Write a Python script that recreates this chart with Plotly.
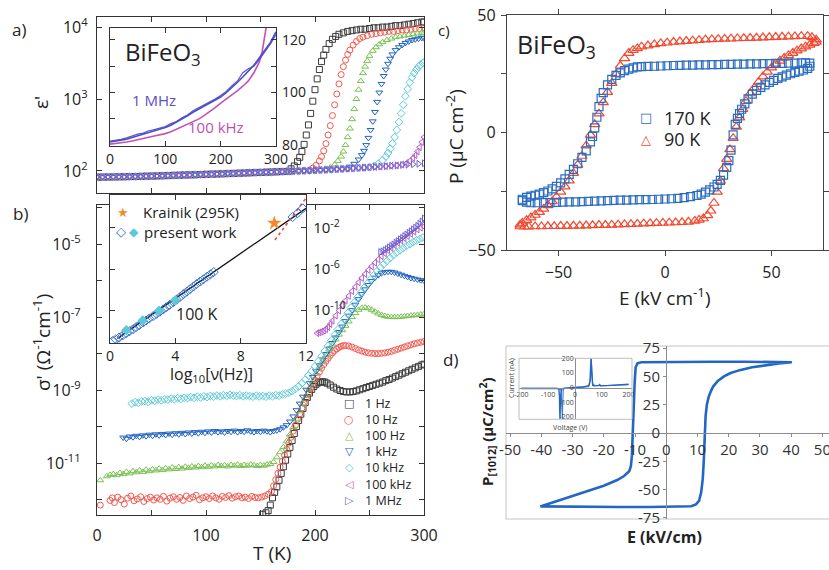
import plotly.graph_objects as go

W, H = 829, 570
FONT = "Open Sans"
SYM_FONT = "DejaVu Sans"
TXT = "#222222"
AXC = "#333333"

C_BLACK = "#3a3a3a"
C_RED = "#f2584f"
C_GREEN = "#79c150"
C_BLUE = "#2163c0"
C_CYAN = "#5ccbd9"
C_MAGENTA = "#b45cc6"
C_PURPLE = "#6d5fcf"


def fx(p):
    return p / W


def fy(p):
    return 1 - p / H


# ---------------- (a) permittivity, log10(eps') vs T ----------------
T_BASE = [0, 5, 10, 15, 20, 25, 30, 35, 40, 45, 50, 55, 60, 65, 70, 75, 80, 85, 90, 95,
          100, 105, 110, 115, 120, 125, 130, 135, 140, 145, 150, 155, 160, 165, 170, 175,
          180, 185, 190, 195, 200, 205, 210, 215, 220, 225, 230, 235, 240, 245, 250, 255,
          260, 265, 270, 275, 280, 285, 290, 295, 300]
LOG_EPS_BASE = [1.914, 1.915, 1.916, 1.917, 1.919, 1.920, 1.922, 1.923, 1.925, 1.927,
                1.929, 1.931, 1.934, 1.936, 1.939, 1.941, 1.944, 1.946, 1.948, 1.951,
                1.953, 1.956, 1.958, 1.961, 1.964, 1.966, 1.969, 1.972, 1.975, 1.978,
                1.980, 1.983, 1.986, 1.989, 1.992, 1.995, 1.998, 2.001, 2.004, 2.008,
                2.011, 2.014, 2.018, 2.022, 2.026, 2.030, 2.034, 2.038, 2.043, 2.047,
                2.051, 2.056, 2.061, 2.066, 2.072, 2.077, 2.083, 2.088, 2.094, 2.100,
                2.107]

T_A_1HZ = [178, 181, 184, 186, 188, 190, 192, 194, 196, 198, 200, 202, 204, 206, 208, 210,
           213, 216, 219, 222, 226, 230, 234, 238, 242, 246, 250, 254, 258, 262, 266, 270,
           274, 278, 282, 286, 290, 294, 298, 300]
LOG_EPS_1HZ = [2.03, 2.07, 2.13, 2.19, 2.27, 2.37, 2.50, 2.64, 2.80, 2.97, 3.13, 3.28, 3.41,
               3.52, 3.61, 3.69, 3.77, 3.83, 3.87, 3.90, 3.92, 3.94, 3.95, 3.96, 3.97, 3.97,
               3.98, 3.99, 3.99, 4.00, 4.00, 4.01, 4.02, 4.02, 4.03, 4.04, 4.05, 4.06, 4.07,
               4.07]
T_A_10HZ = [198, 201, 204, 206, 208, 210, 212, 214, 216, 218, 220, 222, 224, 226, 228, 230,
            232, 235, 238, 241, 244, 248, 252, 256, 260, 264, 268, 272, 276, 280, 284, 288,
            292, 296, 300]
LOG_EPS_10HZ = [2.04, 2.08, 2.14, 2.20, 2.28, 2.38, 2.50, 2.63, 2.77, 2.92, 3.07, 3.21, 3.34,
                3.45, 3.54, 3.62, 3.68, 3.75, 3.80, 3.84, 3.86, 3.88, 3.90, 3.91, 3.92, 3.93,
                3.94, 3.94, 3.95, 3.96, 3.96, 3.97, 3.98, 3.98, 3.99]
T_A_100HZ = [214, 218, 221, 224, 226, 228, 230, 232, 234, 236, 238, 240, 242, 244, 246, 248,
             250, 253, 256, 259, 262, 266, 270, 274, 278, 282, 286, 290, 294, 298, 300]
LOG_EPS_100HZ = [2.05, 2.09, 2.14, 2.20, 2.27, 2.36, 2.47, 2.59, 2.72, 2.86, 3.00, 3.13, 3.25,
                 3.36, 3.45, 3.53, 3.60, 3.67, 3.72, 3.76, 3.79, 3.82, 3.84, 3.86, 3.87, 3.88,
                 3.89, 3.90, 3.91, 3.92, 3.92]
T_A_1KHZ = [232, 236, 240, 243, 245, 247, 249, 251, 253, 255, 257, 259, 261, 263, 265, 267,
            269, 271, 274, 277, 280, 283, 286, 289, 292, 295, 298, 300]
LOG_EPS_1KHZ = [2.06, 2.10, 2.16, 2.22, 2.28, 2.36, 2.46, 2.57, 2.69, 2.82, 2.96, 3.09, 3.21,
                3.32, 3.41, 3.49, 3.56, 3.62, 3.68, 3.72, 3.75, 3.78, 3.80, 3.82, 3.83, 3.84,
                3.85, 3.85]
T_A_10KHZ = [254, 258, 262, 265, 267, 269, 271, 273, 275, 277, 279, 281, 283, 285, 287, 289,
             291, 293, 295, 297, 299, 300]
LOG_EPS_10KHZ = [2.07, 2.10, 2.15, 2.20, 2.25, 2.31, 2.38, 2.47, 2.57, 2.68, 2.80, 2.92, 3.04,
                 3.14, 3.23, 3.30, 3.36, 3.41, 3.45, 3.48, 3.50, 3.51]
T_A_100KHZ = [280, 284, 287, 290, 292, 294, 296, 298, 300]
LOG_EPS_100KHZ = [2.09, 2.11, 2.14, 2.18, 2.22, 2.27, 2.33, 2.40, 2.47]
T_A_1MHZ = []
LOG_EPS_1MHZ = []

# inset of (a): eps' on a linear scale
T_IN_A = [0, 10, 20, 30, 40, 50, 60, 70, 80, 90, 100, 110, 120, 130, 140, 150, 160, 170,
          180, 190, 200, 210, 220, 230, 240, 250, 260, 270, 280, 290, 300]
EPS_IN_1MHZ = [81.2, 81.5, 81.9, 82.3, 82.9, 83.5, 84.1, 84.8, 85.4, 86.0, 86.7, 87.6, 88.7,
               89.9, 91.2, 92.5, 93.6, 94.8, 95.9, 97.1, 98.3, 100.0, 101.8, 103.8, 105.9,
               108.0, 110.4, 113.2, 116.0, 119.0, 123.0]
EPS_IN_1MHZ_B = [81.6, 81.9, 82.2, 82.8, 83.6, 84.2, 84.6, 85.5, 85.9, 86.5, 87.1, 88.2, 89.0,
                 90.4, 91.5, 93.1, 94.2, 95.0, 96.4, 97.5, 98.9, 100.4, 102.5, 104.3, 107.5,
                 109.0, 110.0, 112.5, 115.5, 118.5, 122.0]
T_IN_A_100K = [0, 10, 20, 30, 40, 50, 60, 70, 80, 90, 100, 110, 120, 130, 140, 150, 160, 170,
               180, 190, 200, 210, 220, 230, 240, 250, 260, 270, 275, 280, 284]
EPS_IN_100KHZ = [80.4, 80.6, 80.9, 81.2, 81.6, 82.0, 82.5, 83.0, 83.5, 83.9, 84.4, 85.1, 86.0,
                 86.9, 87.8, 88.8, 89.9, 91.2, 92.6, 94.3, 96.0, 97.5, 99.0, 100.6, 102.4,
                 104.4, 107.5, 111.6, 115.5, 122.0, 127.0]

# ---------------- (b) conductivity, log10(sigma') vs T ----------------
T_B_1HZ = [152, 155, 157, 159, 161, 163, 165, 167, 169, 171, 173, 175, 177, 179, 181, 183,
           185, 187, 189, 191, 193, 195, 197, 199, 201, 203, 205, 207, 209, 211, 214, 217,
           220, 223, 226, 229, 232, 235, 238, 241, 244, 247, 250, 253, 256, 259, 262, 265,
           268, 271, 274, 277, 280, 283, 286, 289, 292, 295, 298, 300]
LOG_SIG_1HZ = [-12.40, -12.36, -12.30, -12.15, -11.95, -11.80, -11.65, -11.47, -11.28, -11.10,
               -10.92, -10.75, -10.57, -10.38, -10.19, -10.00, -9.83, -9.66, -9.50, -9.34,
               -9.20, -9.08, -8.98, -8.90, -8.84, -8.80, -8.78, -8.77, -8.78, -8.81,
               -8.86, -8.92, -8.97, -9.01, -9.04, -9.05, -9.05, -9.04, -9.02, -8.99,
               -8.96, -8.93, -8.90, -8.87, -8.84, -8.81, -8.78, -8.74, -8.71, -8.67,
               -8.63, -8.59, -8.55, -8.51, -8.47, -8.43, -8.39, -8.35, -8.31, -8.29]

T_B_10HZ = [3, 12, 14, 16, 19, 22, 25, 28, 31, 34, 37, 40, 43, 46, 49, 52, 55, 58, 61, 64, 67,
            70, 73, 76, 79, 82, 85, 88, 91, 94, 97, 100, 103, 106, 109, 112, 115, 118, 121,
            124, 127, 130, 133, 136, 139, 142, 145, 148, 151, 154, 157, 160,
            162, 164, 166, 168, 170, 172, 174, 176, 178, 180, 182, 184, 186, 188, 190, 192,
            194, 196, 198, 200, 202, 204, 206, 208, 210, 212, 214, 216, 218, 220, 222, 224,
            226, 228, 231, 234, 237, 240, 243, 246, 249, 252, 255, 258, 261, 264, 267, 270,
            273, 276, 279, 282, 285, 288, 291, 294, 297, 300]
LOG_SIG_10HZ = [-12.15, -12.02, -11.95, -12.08, -11.93, -12.00, -12.12, -11.96, -11.90, -12.03,
                -11.98, -11.92, -12.05, -11.97, -11.93, -12.01, -11.95, -11.99, -11.91, -12.04,
                -11.96, -11.92, -11.99, -11.94, -12.02, -11.90, -11.97, -11.93, -11.88, -12.00,
                -11.95, -11.92, -11.97, -11.90, -11.95, -11.99, -11.91, -11.94, -11.89, -11.96,
                -11.92, -11.90, -11.95, -11.93, -11.97, -11.91, -11.94, -11.95, -11.93, -11.90,
                -11.85, -11.78,
                -11.62, -11.45, -11.28, -11.11, -10.95, -10.78, -10.62, -10.45, -10.29, -10.12,
                -9.96, -9.80, -9.65, -9.50, -9.36, -9.22, -9.09, -8.96, -8.84, -8.72,
                -8.61, -8.50, -8.40, -8.30, -8.21, -8.13, -8.05, -7.98, -7.92, -7.87,
                -7.83, -7.80, -7.78, -7.78,
                -7.79, -7.82, -7.86, -7.90, -7.93, -7.96, -7.98, -7.99, -8.00, -8.00,
                -7.99, -7.98, -7.96, -7.94, -7.91, -7.88, -7.85, -7.82, -7.79, -7.76,
                -7.73, -7.71, -7.69, -7.67]

T_B_100HZ = [3, 9, 12, 15, 18, 21, 24, 27, 30, 33, 36, 39, 42, 45, 48, 51, 54, 57, 60, 63, 66,
             69, 72, 75, 78, 81, 84, 87, 90, 93, 96, 99, 102, 105, 108, 111, 114, 117, 120, 123,
             126, 129, 132, 135, 138, 141, 144, 147, 150, 153, 156, 159, 162, 165, 168, 171,
             174, 177, 180, 183, 186, 189, 192, 195, 198, 201, 204, 207, 210, 213, 216, 219,
             222, 225, 228, 231, 234, 237, 240, 243, 246, 249, 252, 255, 258, 261, 264, 267,
             270, 273, 276, 279, 282, 285, 288, 291, 294, 297, 300]
LOG_SIG_100HZ = [-11.47, -11.36, -11.32, -11.30, -11.33, -11.27, -11.30, -11.24, -11.28, -11.22,
                 -11.25, -11.20, -11.24, -11.18, -11.22, -11.17, -11.20, -11.15, -11.19, -11.14,
                 -11.17, -11.12, -11.16, -11.11, -11.15, -11.10, -11.13, -11.09, -11.12, -11.08,
                 -11.11, -11.07, -11.10, -11.06, -11.09, -11.05, -11.08, -11.06, -11.09, -11.05,
                 -11.07, -11.04, -11.08, -11.05, -11.07, -11.04, -11.06, -11.08, -11.05, -11.07,
                 -11.04, -11.02, -10.97,
                 -10.84, -10.70, -10.56, -10.40, -10.22, -10.02, -9.80, -9.58, -9.37, -9.16,
                 -8.95, -8.75,
                 -8.55, -8.37, -8.20, -8.04, -7.89, -7.75, -7.61, -7.48, -7.36, -7.24,
                 -7.12, -7.00, -6.89, -6.80, -6.75, -6.74, -6.76, -6.80, -6.85, -6.90,
                 -6.94, -6.97, -6.99, -7.00, -7.00, -7.00, -6.99, -6.98, -6.97, -6.96,
                 -6.95, -6.94, -6.93, -6.92]

T_B_1KHZ = [24, 27, 30, 33, 36, 39, 42, 45, 48, 51, 54, 57, 60, 63, 66, 69, 72, 75, 78, 81, 84,
            87, 90, 93, 96, 99, 102, 105, 108, 111, 114, 117, 120, 123, 126, 129, 132, 135,
            138, 141, 144, 147, 150, 153, 156, 159, 162, 165, 168, 171, 174, 177, 180, 183,
            186, 189, 192, 195, 198, 201, 204, 207, 210, 213, 216, 219, 222, 225, 228, 231,
            234, 237, 240, 243, 246, 249, 252, 255, 258, 261, 264, 267, 270, 273, 276, 279,
            282, 285, 288, 291, 294, 297, 300]
LOG_SIG_1KHZ = [-10.30, -10.33, -10.27, -10.29, -10.25, -10.28, -10.24, -10.26, -10.22, -10.25,
                -10.21, -10.24, -10.20, -10.23, -10.19, -10.22, -10.18, -10.21, -10.17, -10.20,
                -10.16, -10.19, -10.15, -10.18, -10.14, -10.17, -10.13, -10.16, -10.12, -10.15,
                -10.13, -10.16, -10.12, -10.14, -10.11, -10.15, -10.12, -10.14, -10.10, -10.13,
                -10.15, -10.12, -10.14, -10.11, -10.13, -10.15, -10.12, -10.10, -10.07, -10.02,
                -9.96,
                -9.86, -9.72, -9.55, -9.37, -9.18, -8.99, -8.81, -8.64, -8.48, -8.32,
                -8.16, -8.01, -7.86, -7.71, -7.56, -7.41, -7.26, -7.11, -6.96, -6.81,
                -6.66, -6.51, -6.37, -6.24, -6.12, -6.01, -5.92, -5.85, -5.80, -5.77,
                -5.76, -5.76, -5.78, -5.81, -5.84, -5.87, -5.90, -5.93, -5.95, -5.97,
                -5.99, -6.00]

T_B_10KHZ = [32, 35, 38, 41, 44, 47, 50, 53, 56, 59, 62, 65, 68, 71, 74, 77, 80, 83, 86, 89,
             92, 95, 98, 101, 104, 107, 110, 113, 116, 119, 122, 125, 128, 131, 134, 137, 140,
             143, 146, 149, 152, 155, 158, 161, 164, 167, 170, 173, 176, 179, 182, 185, 188,
             191, 194, 197, 200, 203, 206, 209, 212, 215, 218, 221, 224, 227, 230, 233, 236,
             239, 242, 245, 248, 251, 254, 257, 260, 263, 266, 269, 272, 275, 278, 281, 284,
             287, 290, 293, 296, 299]
LOG_SIG_10KHZ = [-9.37, -9.33, -9.35, -9.31, -9.30, -9.32, -9.28, -9.29, -9.26, -9.28,
                 -9.25, -9.26, -9.23, -9.25, -9.22, -9.24, -9.21, -9.22, -9.19, -9.21,
                 -9.18, -9.20, -9.17, -9.19, -9.16, -9.18, -9.15, -9.17, -9.14, -9.16,
                 -9.13, -9.15, -9.16, -9.14, -9.17, -9.15, -9.16, -9.18, -9.15, -9.17,
                 -9.16, -9.18, -9.15, -9.17, -9.14, -9.15, -9.12, -9.10, -9.07,
                 -9.03, -8.97, -8.90, -8.81, -8.71, -8.60, -8.48, -8.35, -8.21, -8.07,
                 -7.93, -7.79, -7.64, -7.49, -7.34, -7.19, -7.04, -6.89, -6.74, -6.60,
                 -6.46, -6.33, -6.20, -6.08, -5.96, -5.85, -5.74, -5.64, -5.55, -5.46,
                 -5.38, -5.30, -5.23, -5.17, -5.11, -5.05, -5.00, -4.95, -4.90, -4.86,
                 -4.82]

T_B_100KHZ = [202, 204, 206, 208, 210, 212, 214, 216, 219, 222, 225, 228, 231, 234, 237, 240,
              243, 246, 249, 252, 255, 258, 261, 264, 267, 270, 273, 276, 279, 282, 285, 288,
              291, 294, 297, 300]
LOG_SIG_100KHZ = [-7.44, -7.42, -7.40, -7.37, -7.33, -7.27, -7.19, -7.10,
                  -6.96, -6.82, -6.68, -6.55, -6.42, -6.29, -6.17, -6.05, -5.93, -5.82,
                  -5.71, -5.61, -5.51, -5.42, -5.33, -5.25, -5.17, -5.10, -5.03, -4.96,
                  -4.90, -4.84, -4.78, -4.72, -4.66, -4.60, -4.55, -4.52]

T_B_1MHZ = [260, 262, 264, 266, 268, 270, 272, 274, 276, 278, 280, 282, 284, 286, 288, 290,
            292, 294, 296, 298, 300]
LOG_SIG_1MHZ = [-5.22, -5.20, -5.17, -5.13, -5.09, -5.05, -5.01, -4.96, -4.92, -4.87,
                -4.83, -4.78, -4.74, -4.69, -4.65, -4.60, -4.55, -4.50, -4.44, -4.38, -4.30]

FREQ_LABELS = ["1 Hz", "10 Hz", "100 Hz", "1 kHz", "10 kHz", "100 kHz", "1 MHz"]

# inset of (b): sigma' at 100 K vs log10 frequency
NU_PRESENT = [0.17, 0.35, 0.55, 0.79, 1.0, 1.2, 1.41, 1.6, 1.8, 2.03, 2.2, 2.4, 2.64, 2.85,
              3.05, 3.26, 3.45, 3.65, 3.88, 4.08, 4.29, 4.5, 4.7, 4.9, 5.11, 5.3, 5.52, 5.72,
              5.94, 6.15, 6.35, 11.18, 11.5, 11.8]
LOG_SIG_PRESENT = [-13.0, -12.85, -12.68, -12.45, -12.25, -12.05, -11.85, -11.65, -11.45,
                   -11.2, -11.02, -10.82, -10.58, -10.36, -10.15, -9.93, -9.72, -9.5, -9.22,
                   -8.98, -8.72, -8.45, -8.2, -7.95, -7.7, -7.47, -7.22, -7.0, -6.75, -6.52,
                   -6.3, -0.95, -0.55, -0.1]
NU_PRESENT_B = [1.0, 2.0, 3.0, 4.0]
LOG_SIG_PRESENT_B = [-11.95, -11.0, -10.05, -9.05]
NU_KRAINIK = [10.06]
LOG_SIG_KRAINIK = [-1.54]
NU_FIT = [0.45, 12.0]
LOG_SIG_FIT = [-12.75, -0.1]
NU_FIT_HF = [10.1, 12.0]
LOG_SIG_FIT_HF = [-3.17, 0.9]

# ---------------- (c) P-E loops ----------------
E_170_UP = [68, 66, 64, 61, 58, 55, 52, 49, 46, 43, 40, 37, 34, 31, 28, 25, 22, 19, 16, 13,
            10, 7, 4, 1, -2, -5, -8, -11, -13, -15, -17, -19, -21, -23, -25, -27, -29, -30,
            -31, -32, -33, -34, -35, -37, -39, -41, -43, -45, -47, -49, -51, -53, -55, -57,
            -59, -61, -63, -65, -67]
P_170_UP = [29.5, 29.6, 29.6, 29.5, 29.5, 29.4, 29.4, 29.3, 29.3, 29.2, 29.2, 29.1, 29.1,
            29.0, 29.0, 28.9, 28.9, 28.8, 28.8, 28.7, 28.7, 28.6, 28.5, 28.4, 28.3, 28.2,
            28.1, 28.0, 27.9, 27.5, 27.0, 26.3, 25.4, 24.3, 22.6, 20.3, 17.0, 14.5, 11.0,
            6.5, 2.0, -1.7, -4.0, -7.8, -10.6, -13.3, -15.7, -17.8, -19.7, -21.4, -22.9,
            -24.0, -24.9, -25.6, -26.2, -26.7, -27.1, -27.6, -28.4]
E_170_LO = [-67, -65, -63, -60, -57, -54, -51, -48, -45, -42, -39, -36, -33, -30, -27, -24,
            -21, -18, -15, -12, -9, -6, -3, 0, 3, 6, 9, 12, 15, 17, 19, 21, 23, 24.5, 26,
            27.5, 29, 30, 31, 32, 33, 34, 35, 36, 37.5, 39, 41, 43, 45, 47, 49, 51, 53, 55,
            57, 59, 61, 63, 65, 67, 68]
P_170_LO = [-29.0, -29.6, -29.9, -29.9, -29.8, -29.8, -29.7, -29.6, -29.5, -29.5, -29.4,
            -29.3, -29.2, -29.1, -29.0, -28.9, -28.8, -28.8, -28.7, -28.6, -28.6, -28.5,
            -28.4, -28.3, -28.2, -28.0, -27.7, -27.3, -26.8, -26.2, -25.4, -24.4, -23.2,
            -22.1, -20.4, -18.1, -14.8, -12.0, -7.5, -1.0, 3.5, 6.0, 8.0, 9.9, 12.2, 14.3,
            16.3, 17.9, 19.2, 20.3, 21.3, 22.2, 23.0, 23.7, 24.4, 25.0, 25.6, 26.1, 26.6,
            27.3, 28.2]
E_90_UP = [71, 69, 67, 64, 61, 58, 55, 52, 49, 46, 43, 40, 37, 34, 31, 28, 25, 22, 19, 16,
           13, 10, 7, 4, 1, -2, -5, -8, -11, -13, -15, -17, -19, -21, -23, -25, -27, -29,
           -31, -33, -35, -37, -39, -41, -43, -45, -47, -49, -51, -53, -55, -57, -59, -61,
           -63, -65, -67, -68]
P_90_UP = [39.5, 40.5, 41.0, 41.0, 40.9, 40.8, 40.7, 40.6, 40.5, 40.4, 40.3, 40.2, 40.1,
           40.0, 39.9, 39.8, 39.7, 39.6, 39.5, 39.3, 39.1, 38.9, 38.7, 38.5, 38.2, 37.9,
           37.5, 37.0, 36.5, 35.8, 35.0, 33.8, 31.5, 28.4, 24.8, 21.0, 17.2, 12.8, 8.0, 3.5,
           -1.0, -5.6, -10.0, -13.8, -17.3, -20.5, -23.0, -25.3, -27.4, -29.3, -31.0, -32.5,
           -33.9, -35.1, -36.2, -37.3, -38.5, -39.2]
E_90_LO = [-68, -66, -64, -61, -58, -55, -52, -49, -46, -43, -40, -37, -34, -31, -28, -25,
           -22, -19, -16, -13, -10, -7, -4, -1, 2, 5, 8, 11, 14, 16, 18, 20, 21.5, 23, 24.5,
           26, 27.5, 29, 30.5, 32, 33.5, 35, 36.5, 38, 40, 42, 44, 46, 48, 50, 52, 54, 56,
           58, 60, 62, 64, 66, 68, 70, 71]
P_90_LO = [-40.0, -40.1, -40.1, -40.0, -40.0, -39.9, -39.9, -39.8, -39.8, -39.7, -39.7,
           -39.6, -39.5, -39.4, -39.4, -39.3, -39.2, -39.1, -39.0, -38.9, -38.8, -38.7,
           -38.6, -38.5, -38.4, -38.3, -38.2, -38.0, -37.6, -37.2, -36.6, -35.3, -33.3,
           -30.0, -25.3, -20.6, -15.3, -11.3, -7.2, -2.4, 2.4, 6.3, 9.9, 13.3, 16.6, 19.1,
           21.5, 23.8, 25.8, 27.6, 29.2, 30.5, 31.7, 32.8, 33.8, 34.8, 35.7, 36.5, 37.3,
           38.0, 38.5]

# ---------------- (d) P-E loop of a film, with I-V inset ----------------
E_D = [-40.3, -35, -25, -15, -5, 5, 8, 9.5, 10.5, 11.2, 11.7, 12.0, 12.3, 12.6, 13.0, 13.6,
       14.3, 15.0, 16.5, 18.5, 20.4, 23.5, 27.5, 31.8, 36, 40.2, 35, 25, 15, 5, -5, -8.0,
       -9.2, -9.8, -10.1, -10.4, -10.7, -11.0, -11.3, -11.8, -13.5, -15.7, -20, -24.3,
       -28.5, -32.8, -36.5, -40.3]
P_D = [-64.8, -65.0, -65.2, -65.3, -65.3, -65.2, -64.6, -63.0, -60.0, -52.0, -40.0, -25.0,
       -5.0, 15.0, 25.0, 32.0, 37.0, 41.0, 46.0, 50.0, 52.7, 55.5, 58.0, 60.0, 61.3, 62.5,
       62.8, 62.9, 62.9, 62.8, 62.7, 62.5, 61.5, 58.0, 45.0, 20.0, 0.0, -20.0, -29.0, -33.5,
       -38.0, -41.5, -46.5, -50.3, -54.0, -57.6, -61.0, -64.8]
V_IV_1 = [-200, -150, -100, -75, -65, -60, -58, -57, -56, -55, -54, -52, -50, -45, -30, 0,
          30, 45, 52, 56, 58, 60, 61, 62, 63, 64, 66, 70, 80, 88, 92, 96, 120, 160, 200]
I_IV_1 = [-8, -7, -5, -5, -7, -12, -60, -160, -215, -140, -60, -20, -12, -6, -3, 0, 3, 6, 12,
          40, 120, 210, 180, 120, 60, 30, 15, 11, 10, 14, 20, 11, 13, 17, 22]
V_IV_2 = [-200, -120, -70, -52, -49, -47, -46, -44, -40, 0, 50, 58, 62, 66, 75, 120, 200]
I_IV_2 = [-4, -4, -5, -15, -150, -215, -120, -20, -5, 1, 6, 60, 150, 25, 12, 14, 19]


def check(name, a, b):
    if len(a) != len(b):
        raise ValueError(f"{name}: {len(a)} vs {len(b)}")


fig = go.Figure()


def markers(x, y, xa, ya, symbol, color, size=6, width=1.0):
    fig.add_trace(go.Scatter(
        x=x, y=y, xaxis=xa, yaxis=ya, mode="markers", showlegend=False, hoverinfo="skip",
        marker=dict(symbol=symbol, size=size, color=color, line=dict(color=color, width=width))))


def line(x, y, xa, ya, color, width=1.5, dash="solid"):
    fig.add_trace(go.Scatter(
        x=x, y=y, xaxis=xa, yaxis=ya, mode="lines", showlegend=False, hoverinfo="skip",
        line=dict(color=color, width=width, dash=dash)))


SYMBOLS = ["square-open", "circle-open", "triangle-up-open", "triangle-down-open",
           "diamond-open", "triangle-left-open", "triangle-right-open"]
COLORS = [C_BLACK, C_RED, C_GREEN, C_BLUE, C_CYAN, C_MAGENTA, C_PURPLE]

# (a) main
check("base", T_BASE, LOG_EPS_BASE)
A_STEPS = [(T_A_1HZ, LOG_EPS_1HZ), (T_A_10HZ, LOG_EPS_10HZ), (T_A_100HZ, LOG_EPS_100HZ),
           (T_A_1KHZ, LOG_EPS_1KHZ), (T_A_10KHZ, LOG_EPS_10KHZ),
           (T_A_100KHZ, LOG_EPS_100KHZ), (T_A_1MHZ, LOG_EPS_1MHZ)]
for (t_step, l_step), sym, col in zip(A_STEPS, SYMBOLS, COLORS):
    check("a-step", t_step, l_step)
    start = t_step[0] if t_step else 1e9
    t_pre = [t for t in T_BASE if t < start]
    l_pre = LOG_EPS_BASE[:len(t_pre)]
    markers(t_pre + t_step, [10 ** v for v in l_pre + l_step], "x", "y", sym, col, 6)

# (a) inset
check("in1", T_IN_A, EPS_IN_1MHZ)
check("in1b", T_IN_A, EPS_IN_1MHZ_B)
check("in2", T_IN_A_100K, EPS_IN_100KHZ)
line(T_IN_A_100K, EPS_IN_100KHZ, "x2", "y2", "#c452b4", 1.6)
line(T_IN_A, EPS_IN_1MHZ_B, "x2", "y2", "#5a55d0", 1.2)
line(T_IN_A, EPS_IN_1MHZ, "x2", "y2", "#4a4fc8", 1.6)

# (b) main
B_SERIES = [(T_B_1HZ, LOG_SIG_1HZ), (T_B_10HZ, LOG_SIG_10HZ), (T_B_100HZ, LOG_SIG_100HZ),
            (T_B_1KHZ, LOG_SIG_1KHZ), (T_B_10KHZ, LOG_SIG_10KHZ),
            (T_B_100KHZ, LOG_SIG_100KHZ), (T_B_1MHZ, LOG_SIG_1MHZ)]
for (t, lg), sym, col in zip(B_SERIES, SYMBOLS, COLORS):
    check("b", t, lg)
    markers(t, [10 ** v for v in lg], "x3", "y3", sym, col, 6)

# (b) inset
check("pw", NU_PRESENT, LOG_SIG_PRESENT)
line(NU_FIT, [10 ** v for v in LOG_SIG_FIT], "x4", "y4", "#111111", 1.3)
line(NU_FIT_HF, [10 ** v for v in LOG_SIG_FIT_HF], "x4", "y4", "#f04848", 1.6, "dot")
markers(NU_PRESENT, [10 ** v for v in LOG_SIG_PRESENT], "x4", "y4", "diamond-open", "#2f6fd0", 7)
markers(NU_PRESENT_B, [10 ** v for v in LOG_SIG_PRESENT_B], "x4", "y4", "diamond", "#5cc8d8", 8, 0)
markers(NU_KRAINIK, [10 ** v for v in LOG_SIG_KRAINIK], "x4", "y4", "star", "#f5892b", 11, 0)

# (c)
check("c1u", E_170_UP, P_170_UP)
check("c1l", E_170_LO, P_170_LO)
check("c2u", E_90_UP, P_90_UP)
check("c2l", E_90_LO, P_90_LO)
markers(E_90_UP + E_90_LO, P_90_UP + P_90_LO, "x5", "y5", "triangle-up-open", "#f2482f", 9, 1.2)
markers(E_170_UP + E_170_LO, P_170_UP + P_170_LO, "x5", "y5", "square-open", "#2a6cc0", 8, 1.2)

# (d)
check("d", E_D, P_D)
check("iv1", V_IV_1, I_IV_1)
check("iv2", V_IV_2, I_IV_2)
line(E_D, P_D, "x6", "y6", "#2466c4", 2.6)
line(V_IV_2, I_IV_2, "x7", "y7", "#3f7bd0", 1.1)
line(V_IV_1, I_IV_1, "x7", "y7", "#2466c4", 1.4)


def ax(**kw):
    d = dict(showline=True, linecolor=AXC, linewidth=1.3, mirror="ticks", ticks="inside",
             ticklen=5, tickwidth=1.2, tickcolor=AXC, showgrid=False, zeroline=False,
             automargin=False, tickfont=dict(family=FONT, size=16, color=TXT))
    d.update(kw)
    return d


def minor_ticks(vals, kind="inside", length=5, color=AXC):
    return dict(tickmode="array", tickvals=vals, ticks=kind, ticklen=length,
                tickwidth=1.2, tickcolor=color, showgrid=False)


def excel_ax(**kw):
    d = dict(showline=True, linecolor="#8c8c8c", linewidth=1, ticks="outside", ticklen=3,
             tickcolor="#8c8c8c", showgrid=False, zeroline=False, anchor="free",
             automargin=False, ticklabeloverflow="allow",
             tickfont=dict(family=FONT, size=15, color="#333"))
    d.update(kw)
    return d


def sup_label(e):
    return f"10<sup>{e}</sup>"


fig.update_layout(
    template="none",
    width=W, height=H, autosize=False,
    margin=dict(l=0, r=0, t=0, b=0, pad=0, autoexpand=False),
    paper_bgcolor="white", plot_bgcolor="white", showlegend=False,
    font=dict(family=FONT, color=TXT),
    xaxis=ax(domain=[fx(97), fx(424)], range=[0, 300], tickvals=[0, 50, 100, 150, 200, 250, 300],
             showticklabels=False, anchor="y"),
    yaxis=ax(type="log", domain=[fy(193), fy(17)], range=[1.694, 4.14],
             tickvals=[100, 1000, 10000], ticktext=[sup_label(2), sup_label(3), sup_label(4)],
             anchor="x", ticklabelstandoff=5),
    xaxis2=ax(domain=[fx(110), fx(276)], range=[0, 300], tickvals=[0, 100, 200, 300],
              anchor="y2", tickfont=dict(family=FONT, size=14, color=TXT)),
    yaxis2=ax(domain=[fy(146), fy(28)], range=[79.7, 124.5], side="right",
              tickvals=[80, 100, 120], minor=minor_ticks([90, 110]),
              anchor="x2", tickfont=dict(family=FONT, size=14, color=TXT), ticklabelstandoff=2),
    xaxis3=ax(domain=[fx(97), fx(424)], range=[0, 300], tickvals=[0, 100, 200, 300],
              minor=minor_ticks([50, 150, 250]), anchor="y3", ticklabelstandoff=6),
    yaxis3=ax(type="log", domain=[fy(515), fy(205)], range=[-12.42, -3.93],
              tickvals=[1e-11, 1e-9, 1e-7, 1e-5],
              ticktext=[sup_label(-11), sup_label(-9), sup_label(-7), sup_label(-5)],
              minor=minor_ticks([1e-12, 1e-10, 1e-8, 1e-6, 1e-4]),
              anchor="x3", ticklabelstandoff=12),
    xaxis4=ax(domain=[fx(110), fx(306)], range=[0, 12], tickvals=[0, 4, 8, 12], anchor="y4",
              tickfont=dict(family=FONT, size=14, color=TXT), ticklabelstandoff=0),
    yaxis4=ax(type="log", domain=[fy(343), fy(195)], range=[-13.2, 1.2], side="right",
              tickvals=[1e-10, 1e-6, 1e-2], ticktext=[sup_label(-10), sup_label(-6), sup_label(-2)],
              anchor="x4", tickfont=dict(family=FONT, size=15, color=TXT), ticklabelstandoff=3),
    xaxis5=ax(domain=[fx(507), fx(823)], range=[-74.2, 74.2], tickvals=[-50, 0, 50],
              ticks="outside", linecolor="#444", tickcolor="#444", anchor="y5",
              ticklabelstandoff=3),
    yaxis5=ax(domain=[fy(250), fy(15)], range=[-50, 50], tickvals=[-50, 0, 50],
              minor=minor_ticks([-25, 25], "outside", 5, "#444"),
              ticks="outside", linecolor="#444", tickcolor="#444", anchor="x5",
              ticklabelstandoff=2),
    xaxis6=excel_ax(domain=[fx(506), 1.0], range=[-51.3, 52.1], position=fy(433),
                    tickvals=[-50, -40, -30, -20, -10, 0, 10, 20, 30, 40, 50],
                    ticktext=["-50", "-40", "-30", "-20", "-10", "0", "10", "20", "30", "40", "50"]),
    yaxis6=excel_ax(domain=[fy(519), fy(346)], range=[-75.9, 76.8], position=fx(666),
                    tickvals=[-75, -50, -25, 0, 25, 50, 75],
                    ticktext=["-75", "-50", "-25", "0", "25", "50", "75"]),
    xaxis7=excel_ax(domain=[fx(519), fx(632)], range=[-209, 212.8], position=fy(387.5),
                    tickvals=[-200, -100, 0, 100, 200], ticks="", linewidth=0.8,
                    ticktext=["-200", "-100", "0", "100", "200"],
                    tickfont=dict(family=FONT, size=7, color="#444")),
    yaxis7=excel_ax(domain=[fy(419.3), fy(358.3)], range=[-218, 200], position=fx(575),
                    tickvals=[-200, -100, 0, 100, 200], ticks="", linewidth=0.8,
                    ticktext=["-200", "-100", "0", "100", "200"],
                    tickfont=dict(family=FONT, size=7, color="#444")),
    shapes=[
        dict(type="rect", xref="x6 domain", yref="y6 domain", x0=0, x1=1.05, y0=0, y1=1,
             line=dict(color="#c4c4c4", width=1), fillcolor="rgba(0,0,0,0)", layer="below"),
        dict(type="rect", xref="x7 domain", yref="y7 domain", x0=0, x1=1, y0=0, y1=1,
             line=dict(color="#bdbdbd", width=1), fillcolor="rgba(0,0,0,0)", layer="above"),
    ],
)


def note(text, x, y, size=16, color=TXT, angle=0, xanchor="center", family=FONT):
    fig.add_annotation(text=text, x=fx(x), y=fy(y), xref="paper", yref="paper",
                       showarrow=False, textangle=angle, xanchor=xanchor, yanchor="middle",
                       font=dict(family=family, size=size, color=color))


# panel letters
note("a)", 19, 30, 17)
note("b)", 20, 213, 17)
note("c)", 444, 30, 15)
note("d)", 451, 359, 17)

# (a) texts
note("ε'", 41, 103, 19, angle=-90)
note("BiFeO<sub>3</sub>", 163, 53, 24)
note("1 MHz", 154, 100, 15, color="#5b4fc4")
note("100 kHz", 216, 127, 15, color="#c050b0")

# (b) texts
note("σ' (Ω<sup>-1</sup>cm<sup>-1</sup>)", 42, 343, 19, angle=-90)
note("T (K)", 272, 553, 19)
note("log<sub>10</sub>[ν(Hz)]", 211, 374, 16)
note("100 K", 197, 314, 16)
note("★", 123, 212, 13, color="#f5892b", family=SYM_FONT)
note("Krainik (295K)", 141, 212, 15, xanchor="left")
note("◇", 121, 232, 13, color="#2f6fd0", family=SYM_FONT)
note("◆", 134, 232, 12, color="#5cc8d8", family=SYM_FONT)
note("present work", 142, 232, 15, xanchor="left")
GLYPHS = ["□", "○", "△", "▽", "◇", "◁", "▷"]
LEG_Y = [403, 419, 435, 451, 467, 484, 500]
for g, c, lab, yy in zip(GLYPHS, COLORS, FREQ_LABELS, LEG_Y):
    note(g, 349, yy, 11, color=c, family=SYM_FONT)
    note(lab, 363, yy, 12.5, xanchor="left")

# (c) texts
note("BiFeO<sub>3</sub>", 556, 45, 25)
note("P (μC cm<sup>-2</sup>)", 455, 136, 19, angle=-90)
note("E (kV cm<sup>-1</sup>)", 665, 297, 19)
note("□", 646, 118, 13, color="#2a6cc0", family=SYM_FONT)
note("170 K", 662, 118, 18, xanchor="left")
note("△", 646, 139, 13, color="#f2482f", family=SYM_FONT)
note("90 K", 662, 139, 18, xanchor="left")

# (d) texts
note("<b>E (kV/cm)</b>", 664, 537, 16)
note("<b>P<sub>[1012]</sub> (μC/cm<sup>2</sup>)</b>", 487, 432, 15, angle=-90)
note("Current (nA)", 511, 378, 7, angle=-90, color="#444")
note("Voltage (V)", 570, 427, 7, color="#444")

# the page body keeps no default margin so the 829x570 figure fills the window exactly
fig.write_html("out.html",
               post_script="document.body.style.margin='0';"
                           "document.documentElement.style.overflow='hidden';")
